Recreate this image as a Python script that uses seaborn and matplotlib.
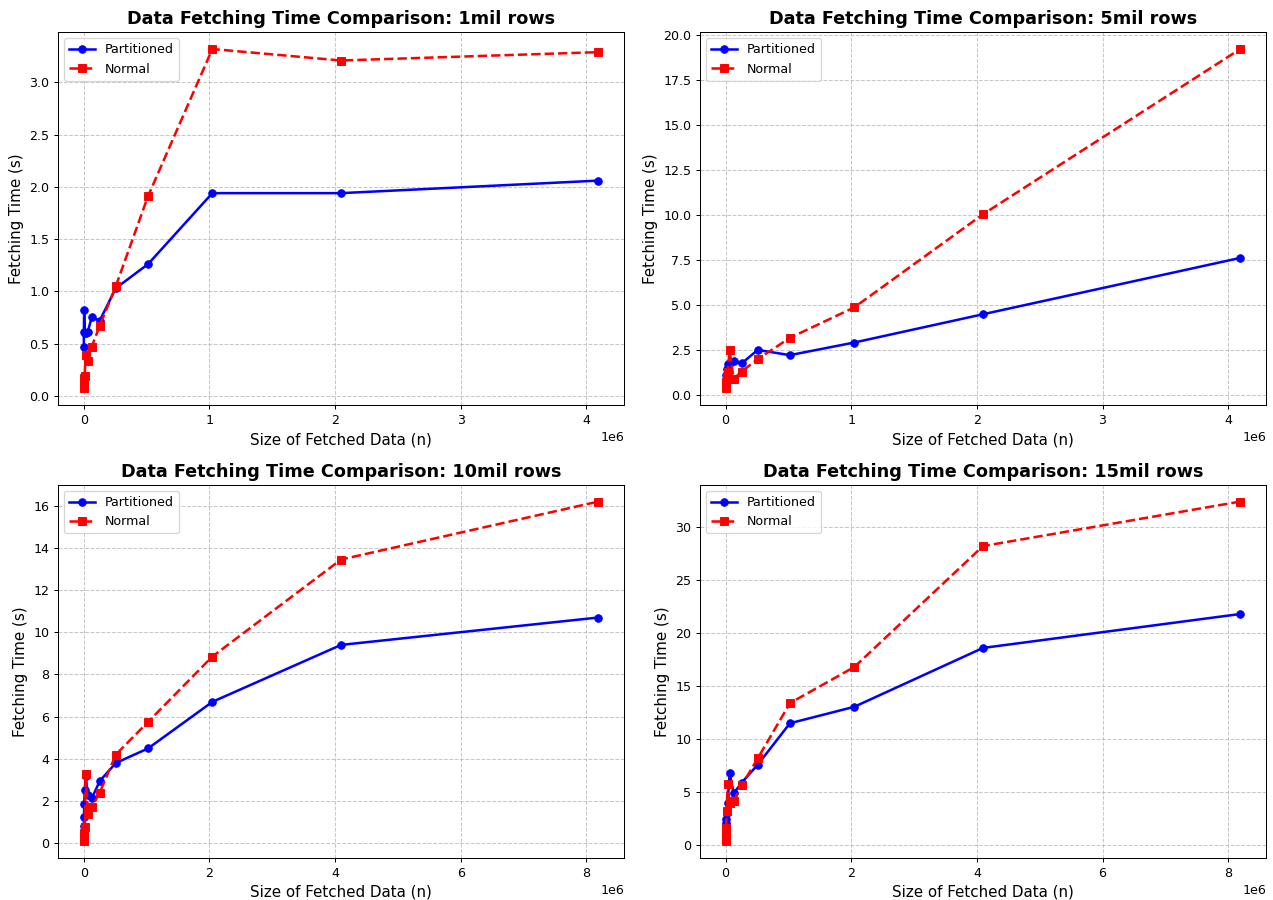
import matplotlib
matplotlib.use("Agg")
import matplotlib.pyplot as plt
import seaborn as sns
import numpy as np

sizes_4m = [1000, 2000, 4000, 8000, 16000, 32000, 64000, 128000, 256000, 512000, 1024000, 2048000, 4096000]
sizes_8m = sizes_4m + [8192000]

titles = ["1mil", "5mil", "10mil", "15mil"]

part_1mil = [0.47, 0.61, 0.82, 0.60, 0.60, 0.61, 0.75, 0.72, 1.03, 1.26, 1.94, 1.94, 2.06]
norm_1mil = [0.07, 0.10, 0.17, 0.19, 0.39, 0.33, 0.47, 0.67, 1.05, 1.91, 3.32, 3.21, 3.29]

part_5mil = [0.45, 0.78, 1.10, 1.45, 1.70, 1.75, 1.85, 1.74, 2.49, 2.20, 2.90, 4.47, 7.60]
norm_5mil = [0.35, 0.45, 0.70, 1.00, 1.24, 2.47, 0.88, 1.29, 1.98, 3.16, 4.85, 10.02, 19.20]

part_10mil = [0.45, 0.80, 1.23, 1.87, 2.53, 3.20, 2.30, 2.12, 2.95, 3.80, 4.49, 6.70, 9.40, 10.70]
norm_10mil = [0.10, 0.15, 0.30, 0.50, 0.76, 3.26, 1.38, 1.70, 2.40, 4.20, 5.75, 8.85, 13.45, 16.20]

part_15mil = [0.70, 1.20, 2.10, 2.50, 3.00, 4.00, 6.80, 4.90, 5.90, 7.60, 11.50, 13.05, 18.60, 21.80]
norm_15mil = [0.40, 0.70, 1.10, 1.60, 3.20, 5.80, 4.00, 4.20, 5.65, 8.20, 13.40, 16.80, 28.20, 32.40]

datasets = [
    (sizes_4m, part_1mil, norm_1mil),
    (sizes_4m, part_5mil, norm_5mil),
    (sizes_8m, part_10mil, norm_10mil),
    (sizes_8m, part_15mil, norm_15mil),
]

plt.rcParams['font.family'] = ['DejaVu Sans']
DPI = 1273 / 14.0

fig, axes = plt.subplots(2, 2, figsize=(14, 900 / DPI), dpi=DPI)
for ax, title, (xs, p, n) in zip(axes.flat, titles, datasets):
    sns.lineplot(x=xs, y=p, ax=ax, color="blue", marker="o", markersize=6,
                 markeredgecolor="blue", linewidth=2, label="Partitioned")
    sns.lineplot(x=xs, y=n, ax=ax, color="red", marker="s", markersize=6,
                 markeredgecolor="red", linewidth=2, linestyle="--", label="Normal")
    ax.set_title(f"Data Fetching Time Comparison: {title} rows", fontsize=14, fontweight="bold")
    ax.set_xlabel("Size of Fetched Data (n)", fontsize=12)
    ax.set_ylabel("Fetching Time (s)", fontsize=12)
    ax.grid(True, linestyle="--", alpha=0.7)
    ax.legend(loc="upper left", fontsize=10)

fig.subplots_adjust(left=0.0456, right=0.9945, top=0.9644, bottom=0.0467,
                    wspace=0.134, hspace=0.212)
fig.savefig("out.png", dpi=DPI)
